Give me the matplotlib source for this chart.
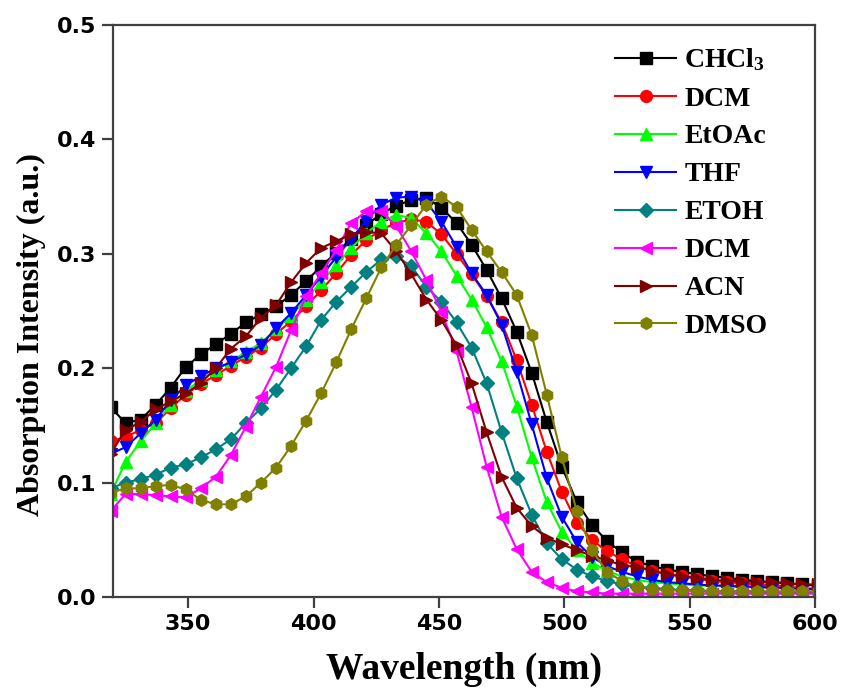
import matplotlib
matplotlib.use("Agg")
import matplotlib.pyplot as plt

# wavelength grid (nm) – markers sit every ~6 nm
wl = list(range(319, 602, 6))

chcl3 = [0.166, 0.152, 0.155, 0.168, 0.183, 0.201, 0.212, 0.221, 0.230, 0.240,
         0.247, 0.254, 0.264, 0.276, 0.289, 0.301, 0.313, 0.325, 0.335, 0.342,
         0.347, 0.349, 0.340, 0.327, 0.308, 0.286, 0.261, 0.232, 0.196, 0.153,
         0.114, 0.083, 0.063, 0.049, 0.039, 0.031, 0.027, 0.024, 0.022, 0.020,
         0.018, 0.017, 0.015, 0.014, 0.013, 0.012, 0.011, 0.010]
dcm = [0.136, 0.140, 0.146, 0.152, 0.165, 0.177, 0.186, 0.194, 0.202, 0.210,
       0.218, 0.230, 0.241, 0.254, 0.268, 0.283, 0.299, 0.312, 0.321, 0.327,
       0.330, 0.328, 0.317, 0.300, 0.282, 0.263, 0.240, 0.207, 0.168, 0.127,
       0.092, 0.065, 0.050, 0.040, 0.033, 0.027, 0.023, 0.020, 0.018, 0.016,
       0.014, 0.013, 0.012, 0.011, 0.010, 0.009, 0.008, 0.008]
etoac = [0.090, 0.118, 0.136, 0.152, 0.168, 0.180, 0.190, 0.198, 0.206, 0.214,
         0.222, 0.234, 0.246, 0.260, 0.275, 0.290, 0.305, 0.318, 0.328, 0.334,
         0.331, 0.318, 0.302, 0.281, 0.260, 0.236, 0.206, 0.167, 0.122, 0.083,
         0.057, 0.041, 0.030, 0.023, 0.018, 0.015, 0.013, 0.012, 0.011, 0.010,
         0.010, 0.009, 0.009, 0.009, 0.008, 0.008, 0.008, 0.008]
thf = [0.125, 0.131, 0.143, 0.155, 0.172, 0.185, 0.193, 0.200, 0.205, 0.212,
       0.220, 0.235, 0.248, 0.264, 0.280, 0.297, 0.313, 0.329, 0.343, 0.349,
       0.350, 0.345, 0.328, 0.306, 0.283, 0.264, 0.238, 0.197, 0.151, 0.104,
       0.070, 0.048, 0.035, 0.027, 0.022, 0.018, 0.015, 0.013, 0.012, 0.011,
       0.010, 0.010, 0.009, 0.009, 0.008, 0.008, 0.007, 0.007]
etoh = [0.095, 0.100, 0.103, 0.107, 0.113, 0.116, 0.122, 0.129, 0.138, 0.152,
        0.165, 0.181, 0.200, 0.219, 0.242, 0.258, 0.271, 0.284, 0.295, 0.298,
        0.289, 0.271, 0.258, 0.240, 0.218, 0.187, 0.144, 0.104, 0.072, 0.047,
        0.033, 0.024, 0.018, 0.014, 0.011, 0.009, 0.008, 0.007, 0.006, 0.006,
        0.005, 0.005, 0.005, 0.005, 0.004, 0.004, 0.004, 0.004]
dcm2 = [0.075, 0.090, 0.090, 0.089, 0.088, 0.087, 0.095, 0.105, 0.124, 0.149,
        0.175, 0.201, 0.233, 0.263, 0.283, 0.303, 0.327, 0.337, 0.337, 0.324,
        0.302, 0.277, 0.249, 0.215, 0.166, 0.114, 0.070, 0.042, 0.022, 0.013,
        0.008, 0.005, 0.004, 0.003, 0.003, 0.003, 0.003, 0.003, 0.003, 0.003,
        0.003, 0.003, 0.003, 0.003, 0.003, 0.003, 0.003, 0.003]
acn = [0.125, 0.146, 0.153, 0.164, 0.171, 0.178, 0.187, 0.200, 0.217, 0.228,
       0.244, 0.255, 0.275, 0.292, 0.305, 0.311, 0.317, 0.319, 0.318, 0.302,
       0.282, 0.260, 0.242, 0.220, 0.187, 0.144, 0.105, 0.078, 0.062, 0.052,
       0.046, 0.041, 0.036, 0.032, 0.028, 0.026, 0.023, 0.020, 0.018, 0.017,
       0.015, 0.014, 0.014, 0.013, 0.013, 0.012, 0.011, 0.011]
dmso = [0.091, 0.095, 0.095, 0.097, 0.098, 0.094, 0.085, 0.081, 0.081, 0.088,
        0.100, 0.113, 0.132, 0.154, 0.178, 0.205, 0.234, 0.261, 0.288, 0.308,
        0.325, 0.343, 0.350, 0.341, 0.321, 0.302, 0.284, 0.264, 0.229, 0.177,
        0.122, 0.075, 0.041, 0.022, 0.014, 0.009, 0.007, 0.006, 0.006, 0.005,
        0.005, 0.005, 0.005, 0.005, 0.005, 0.005, 0.005, 0.005]

series = [
    ("CHCl$_\\mathrm{3}$", chcl3, "black", "s"),
    ("DCM", dcm, "#FF0000", "o"),
    ("EtOAc", etoac, "#00FF00", "^"),
    ("THF", thf, "#0000FF", "v"),
    ("ETOH", etoh, "#008080", "D"),
    ("DCM", dcm2, "#FF00FF", "<"),
    ("ACN", acn, "#800000", ">"),
    ("DMSO", dmso, "#808000", "h"),
]

plt.rcParams["mathtext.fontset"] = "custom"
plt.rcParams["mathtext.rm"] = "Liberation Serif:bold"
plt.rcParams["mathtext.it"] = "Liberation Serif:bold"
plt.rcParams["mathtext.bf"] = "Liberation Serif:bold"

SPINE = "#404040"

fig = plt.figure(figsize=(8.41, 6.96), dpi=100)
ax = fig.add_axes([0.1344, 0.1422, 0.8347, 0.822])

for label, vals, col, mk in series:
    ms = 8.5 if mk in ("h", "o") else 8
    if mk == "D":
        ms = 7
    ax.plot(wl, vals, color=col, marker=mk, ms=ms, lw=1.5,
            markeredgecolor=col, label=label)

ax.set_xlim(320, 600)
ax.set_ylim(0, 0.5)
ax.set_xticks([350, 400, 450, 500, 550, 600])
ax.set_yticks([0.0, 0.1, 0.2, 0.3, 0.4, 0.5])
ax.set_yticklabels([f"{v:.1f}" for v in ax.get_yticks()])

for sp in ax.spines.values():
    sp.set_color(SPINE)
    sp.set_linewidth(1.6)
ax.tick_params(direction="out", length=8, width=1.6, color=SPINE,
               labelsize=16, pad=4)
for t in ax.get_xticklabels() + ax.get_yticklabels():
    t.set_fontfamily("DejaVu Sans")
    t.set_fontweight("bold")

ax.set_xlabel("Wavelength (nm)", fontsize=27, fontweight="bold",
              family="Liberation Serif", labelpad=13)
ax.set_ylabel("Absorption Intensity (a.u.)", fontsize=23, fontweight="bold",
              family="Liberation Serif")
ax.yaxis.set_label_coords(-0.095, 0.458)

ax.legend(loc="upper left", bbox_to_anchor=(0.715, 0.962), frameon=False,
          numpoints=1, handlelength=2.2, handletextpad=0.3, labelspacing=0.45,
          borderpad=0, borderaxespad=0,
          prop={"family": "Liberation Serif", "weight": "bold", "size": 20})

plt.savefig("out.png", dpi=100)
